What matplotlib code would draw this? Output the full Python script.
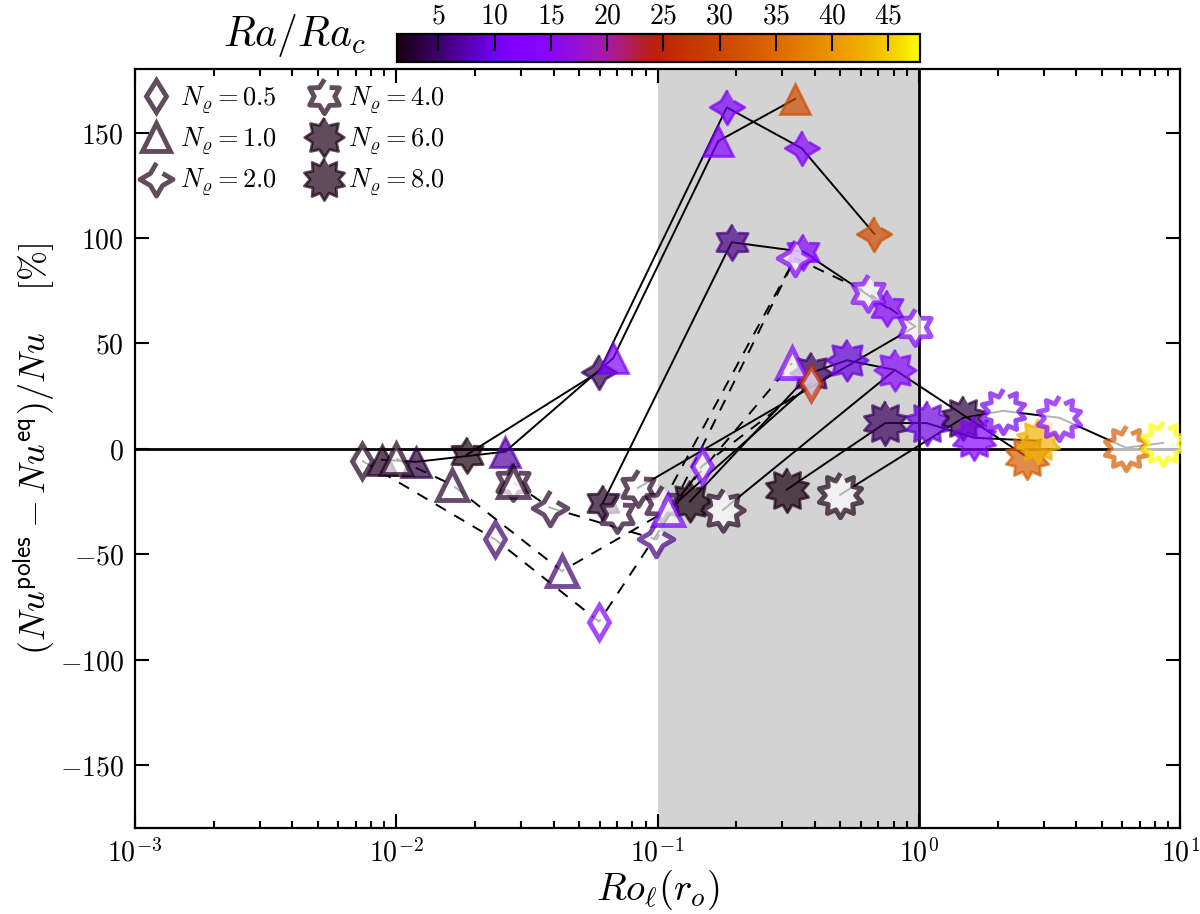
import numpy as np
import matplotlib
matplotlib.use('Agg')
import matplotlib.pyplot as plt
from matplotlib.colors import LinearSegmentedColormap, Normalize
from matplotlib.lines import Line2D
from matplotlib.ticker import FuncFormatter, FixedLocator, LogLocator, NullFormatter

plt.rcParams['mathtext.fontset'] = 'cm'
plt.rcParams['font.family'] = 'DejaVu Serif'

# ---- data ----
# N_rho = 0.5 (thin diamonds)
x_n05_open = [0.0074, 0.0239, 0.0597, 0.1475, 0.386]
y_n05_open = [-5.7, -43, -82, -8.4, 31]
ra_n05_open = [2.0, 5.0, 11.0, 11.5, 26.0]

# N_rho = 1 (triangles)
x_n1_fill = [0.0088, 0.0119, 0.0261, 0.0676, 0.1707, 0.336]
y_n1_fill = [-5.2, -6.2, -1.4, 43, 146, 166]
ra_n1_fill = [2.0, 3.0, 7.0, 11.0, 12.0, 31.0]
x_n1_open = [0.0100, 0.0163, 0.028, 0.043, 0.110, 0.327]
y_n1_open = [-4.7, -17, -16, -58, -29, 40.6]
ra_n1_open = [2.0, 2.5, 2.0, 5.0, 10.0, 11.0]

# N_rho = 2 (4-point stars)
x_n2_fill = [0.0597, 0.184, 0.356, 0.675]
y_n2_fill = [36.6, 162, 142.6, 102]
ra_n2_fill = [4.0, 11.0, 12.0, 31.0]
x_n2_open = [0.0388, 0.099, 0.336]
y_n2_open = [-28, -43, 90.5]
ra_n2_open = [2.5, 6.0, 12.0]

# N_rho = 4 (6-point stars)
x_n4_fill = [0.0186, 0.0618, 0.192, 0.36, 0.754]
y_n4_fill = [-2.8, -25.6, 98, 93.5, 67]
ra_n4_fill = [1.5, 2.0, 6.0, 12.0, 13.0]
x_n4_open = [0.028, 0.070, 0.084, 0.104, 0.64, 0.968]
y_n4_open = [-16, -31, -18.6, -26, 74, 58]
ra_n4_open = [2.0, 2.5, 2.0, 2.5, 13.0, 11.0]

# N_rho = 6 (8-point stars)
x_n6_fill = [0.133, 0.386, 0.53, 0.81]
y_n6_fill = [-25, 36, 42, 37.4]
ra_n6_fill = [1.5, 4.5, 9.0, 14.0]
x_n6_open = [0.178]
y_n6_open = [-29]
ra_n6_open = [2.0]

# N_rho = 8 (10-point stars)
x_n8_fill = [0.312, 0.743, 1.07, 1.48, 1.63, 2.6, 2.85]
y_n8_fill = [-19.4, 12.2, 12.2, 14.7, 5.2, -4.0, 3.8]
ra_n8_fill = [1.5, 4.5, 9.0, 3.0, 12.0, 33.0, 43.0]
x_n8_open = [0.50, 2.1, 3.45, 6.2, 8.6]
y_n8_open = [-21.8, 18, 14.7, 0.5, 2.8]
ra_n8_open = [1.5, 10.0, 13.0, 33.0, 47.5]

# connecting lines
solid_x = [
    [0.0088, 0.0119, 0.0261, 0.0676, 0.1707, 0.336],
    [0.0186, 0.0597, 0.184, 0.356, 0.675],
    [0.0618, 0.192, 0.36, 0.754],
    [0.178, 0.81],
    [0.133, 0.386, 0.53, 0.81, 2.6],
    [0.110, 0.386],
    [0.084, 0.968],
    [0.312, 0.743, 1.07, 1.63, 2.85],
    [0.50, 1.48, 2.1, 3.45, 6.2, 8.6],
]
solid_y = [
    [-5.2, -6.2, -1.4, 43, 146, 166],
    [-2.8, 36.6, 162, 142.6, 102],
    [-25.6, 98, 93.5, 67],
    [-29, 37.4],
    [-25, 36, 42, 37.4, -4.0],
    [-29, 31],
    [-18.6, 58],
    [-19.4, 12.2, 12.2, 5.2, 3.8],
    [-21.8, 14.7, 18, 14.7, 0.5, 2.8],
]
dashed_x = [
    [0.0074, 0.0239, 0.0597, 0.1475, 0.386],
    [0.0100, 0.0163, 0.043, 0.110, 0.327],
    [0.028, 0.0388, 0.099, 0.336],
    [0.104, 0.336, 0.64, 0.968],
]
dashed_y = [
    [-5.7, -43, -82, -8.4, 31],
    [-4.7, -17, -58, -29, 40.6],
    [-16, -28, -43, 90.5],
    [-26, 90.5, 74, 58],
]

cbar_ticks = [5, 10, 15, 20, 25, 30, 35, 40, 45]
nrho_labels = ['0.5', '1.0', '2.0', '4.0', '6.0', '8.0']

# ---- style ----
cmap = LinearSegmentedColormap.from_list('rarac', [
    (0.00, '#1a0010'), (0.08, '#3c006c'), (0.18, '#7000f0'), (0.22, '#8000ff'),
    (0.29, '#8608fa'), (0.40, '#a818a8'), (0.49, '#bb2008'), (0.56, '#c43400'),
    (0.64, '#cf4c00'), (0.73, '#de6c00'), (0.82, '#e89000'), (0.90, '#f0b400'),
    (0.96, '#f6d800'), (1.00, '#ffff00')])
norm = Normalize(vmin=1.35, vmax=47.85)
ALPHA = 0.7


def star(n, inner):
    ang = np.pi / 2 + np.arange(2 * n) * np.pi / n
    r = np.where(np.arange(2 * n) % 2 == 0, 1.0, inner)
    return np.column_stack([r * np.cos(ang), r * np.sin(ang)])


mk = {'0.5': 'd', '1.0': '^', '2.0': star(4, 0.52), '4.0': star(6, 0.6),
      '6.0': star(8, 0.66), '8.0': star(10, 0.68)}
ms = {'0.5': 17, '1.0': 21, '2.0': 25, '4.0': 26, '6.0': 30, '8.0': 32}

fig = plt.figure(figsize=(12, 9.14), dpi=100)
ax = fig.add_axes([0.1125, 0.094, 0.871, 0.830])

ax.axvspan(0.1, 1.0, color='#d3d3d3', zorder=0, lw=0)
ax.axhline(0, color='k', lw=2, zorder=1)
ax.axvline(1.0, color='k', lw=2, zorder=1)

for xs, ys in zip(solid_x, solid_y):
    ax.plot(xs, ys, '-', color='k', lw=1.4, zorder=2)
for xs, ys in zip(dashed_x, dashed_y):
    ax.plot(xs, ys, '--', color='k', lw=1.4, dashes=(6, 5), zorder=2)


def draw(xs, ys, ras, key, filled):
    for x, y, r in zip(xs, ys, ras):
        c = cmap(norm(r))
        ec = (c[0], c[1], c[2], ALPHA)
        fc = ec if filled else (1, 1, 1, ALPHA)
        ax.plot([x], [y], ls='none', marker=mk[key], ms=ms[key], mfc=fc, mec=ec,
                mew=2.0 if filled else 3.5, zorder=3)


draw(x_n8_fill, y_n8_fill, ra_n8_fill, '8.0', True)
draw(x_n8_open, y_n8_open, ra_n8_open, '8.0', False)
draw(x_n6_fill, y_n6_fill, ra_n6_fill, '6.0', True)
draw(x_n6_open, y_n6_open, ra_n6_open, '6.0', False)
draw(x_n4_fill, y_n4_fill, ra_n4_fill, '4.0', True)
draw(x_n4_open, y_n4_open, ra_n4_open, '4.0', False)
draw(x_n2_fill, y_n2_fill, ra_n2_fill, '2.0', True)
draw(x_n2_open, y_n2_open, ra_n2_open, '2.0', False)
draw(x_n1_fill, y_n1_fill, ra_n1_fill, '1.0', True)
draw(x_n1_open, y_n1_open, ra_n1_open, '1.0', False)
draw(x_n05_open, y_n05_open, ra_n05_open, '0.5', False)

ax.set_xscale('log')
ax.set_xlim(1e-3, 1e1)
ax.set_ylim(-180, 180)
ax.xaxis.set_major_formatter(FuncFormatter(lambda v, p: r'$10^{%d}$' % round(np.log10(v))))
ax.xaxis.set_minor_locator(LogLocator(base=10, subs=np.arange(2, 10)))
ax.xaxis.set_minor_formatter(NullFormatter())
ax.yaxis.set_major_locator(FixedLocator([-150, -100, -50, 0, 50, 100, 150]))
ax.yaxis.set_major_formatter(FuncFormatter(lambda v, p: r'$%d$' % v))
ax.tick_params(which='both', direction='in', top=True, right=True, width=1.5)
ax.tick_params(which='major', length=10, labelsize=20, pad=8)
ax.tick_params(which='minor', length=5)
for s in ax.spines.values():
    s.set_linewidth(1.6)

ax.set_xlabel(r'$Ro_\ell(r_o)$', fontsize=28, labelpad=0)
ax.set_ylabel(r'$(Nu^{\mathsf{poles}}-Nu^{\mathsf{eq}})/Nu\quad\ [\%]$', fontsize=26, labelpad=2)

# legend
dark = cmap(norm(1.6))
dark = (dark[0], dark[1], dark[2], ALPHA)
handles = []
for i, lab in enumerate(nrho_labels):
    filled = i >= 4
    handles.append(Line2D([], [], ls='none', marker=mk[lab], ms=ms[lab] * 0.95,
                          mec=dark, mfc=dark if filled else (1, 1, 1, ALPHA),
                          mew=2.0 if filled else 3.5,
                          label=r'$\boldsymbol{N_\varrho} = %s$' % lab))
ax.legend(handles=handles, loc='upper left', ncol=2, frameon=False, fontsize=19,
          handlelength=0.8, handletextpad=0.5, columnspacing=1.4, labelspacing=0.35,
          borderaxespad=0.0, bbox_to_anchor=(0.0, 0.995))

# colorbar
cax = fig.add_axes([0.331, 0.932, 0.436, 0.031])
sm = matplotlib.cm.ScalarMappable(norm=norm, cmap=cmap)
cb = fig.colorbar(sm, cax=cax, orientation='horizontal', ticks=cbar_ticks)
cb.ax.xaxis.set_ticks_position('top')
cb.ax.xaxis.set_label_position('top')
cb.ax.set_xticklabels([r'$%d$' % t for t in cbar_ticks])
cb.ax.tick_params(direction='in', length=12, width=1.5, labelsize=20, pad=3)
cb.outline.set_linewidth(1.6)
fig.text(0.305, 0.961, r'$Ra/Ra_c$', fontsize=30, ha='right', va='center')

fig.savefig('out.png', dpi=100)
